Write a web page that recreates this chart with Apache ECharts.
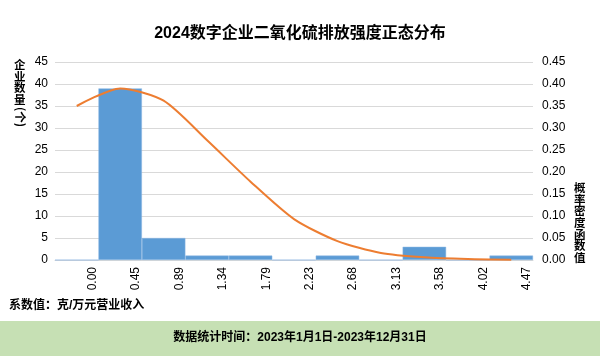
<!DOCTYPE html>
<html>
<head>
<meta charset="utf-8">
<script src="https://cdn.jsdelivr.net/npm/echarts@6/dist/echarts.min.js"></script>
<style>
html,body{margin:0;padding:0;background:#fff;}
#chart{width:600px;height:356px;}
</style>
</head>
<body>
<div id="chart"></div>
<script>
// Histogram bins (category 0 is the leading empty slot used by the curve)
var binCategories = ['b0', 'b1', 'b2', 'b3', 'b4', 'b5', 'b6', 'b7', 'b8', 'b9', 'b10'];
var companyCounts = [0, 39, 5, 1, 1, 0, 1, 0, 3, 0, 1];
var densityValues = [0.35, 0.39, 0.362, 0.272, 0.178, 0.093, 0.043, 0.016, 0.006, 0.002, 0.0005];
var tickLabels = ['', '0.00', '0.45', '0.89', '1.34', '1.79', '2.23', '2.68', '3.13', '3.58', '4.02', '4.47'];

var titleText = '2024数字企业二氧化硫排放强度正态分布';
var leftAxisName = '企业数量';
var leftAxisUnit = '(个)';
var rightAxisName = '概率密度函数值';
var noteText = '系数值：克/万元营业收入';
var footerText = '数据统计时间：2023年1月1日-2023年12月31日';

var FONT = '"Liberation Sans", "Noto Sans CJK SC", sans-serif';
var CJK = '"Noto Sans CJK SC", sans-serif';

var chart = echarts.init(document.getElementById('chart'), null, {renderer: 'canvas'});
chart.setOption({
  animation: false,
  backgroundColor: '#ffffff',
  textStyle: {fontFamily: FONT},
  title: {
    text: titleText,
    left: 'center',
    top: 21,
    textStyle: {fontSize: 16, fontWeight: 'bold', color: '#000', fontFamily: FONT}
  },
  grid: {left: 55, right: 67, top: 62, bottom: 96, containLabel: false},
  xAxis: [
    {
      type: 'category',
      data: binCategories,
      boundaryGap: true,
      position: 'bottom',
      show: false
    },
    {
      type: 'category',
      data: tickLabels,
      boundaryGap: false,
      position: 'bottom',
      axisLine: {show: true, lineStyle: {color: '#d9d9d9', width: 1}},
      axisTick: {show: false},
      splitLine: {show: false},
      axisLabel: {
        interval: 0,
        rotate: 90,
        margin: 7,
        fontSize: 12,
        color: '#000',
        fontFamily: FONT,
        verticalAlign: 'bottom'
      }
    }
  ],
  yAxis: [
    {
      type: 'value',
      min: 0, max: 45, interval: 5,
      axisLine: {show: false},
      axisTick: {show: false},
      splitLine: {lineStyle: {color: '#d9d9d9', width: 1}},
      axisLabel: {fontSize: 12, color: '#000', margin: 7, fontFamily: FONT}
    },
    {
      type: 'value',
      min: 0, max: 0.45, interval: 0.05,
      position: 'right',
      axisLine: {show: false},
      axisTick: {show: false},
      splitLine: {show: false},
      axisLabel: {
        fontSize: 12, color: '#000', margin: 9, fontFamily: FONT,
        formatter: function (v) { return v.toFixed(2); }
      }
    }
  ],
  series: [
    {
      type: 'bar',
      xAxisIndex: 0,
      yAxisIndex: 0,
      data: companyCounts,
      barCategoryGap: '0%',
      barGap: '0%',
      itemStyle: {color: '#5b9bd5', borderColor: '#8db6e3', borderWidth: 0.5}
    },
    {
      type: 'line',
      xAxisIndex: 0,
      yAxisIndex: 1,
      data: densityValues,
      smooth: 0.25,
      symbol: 'none',
      lineStyle: {color: '#ed7d31', width: 2},
      z: 5
    }
  ],
  graphic: [
    {
      type: 'text',
      left: 14,
      top: 59,
      style: {
        text: leftAxisName.split('').join('\n'),
        font: 'bold 11.5px ' + CJK,
        fill: '#000',
        lineHeight: 11.5
      }
    },
    {
      type: 'text',
      x: 26,
      y: 107,
      rotation: -Math.PI / 2,
      style: {
        text: leftAxisUnit,
        font: 'bold 11.5px ' + CJK,
        fill: '#000'
      }
    },
    {
      type: 'text',
      left: 574,
      top: 182,
      style: {
        text: rightAxisName.split('').join('\n'),
        font: 'bold 11.5px ' + CJK,
        fill: '#000',
        lineHeight: 11.6
      }
    },
    {
      type: 'text',
      left: 9,
      top: 300,
      style: {
        text: noteText,
        font: 'bold 12px ' + FONT,
        fill: '#000'
      }
    },
    {
      type: 'rect',
      left: 0,
      top: 321,
      shape: {width: 600, height: 35},
      style: {fill: '#c6e0b4'},
      z: -1
    },
    {
      type: 'text',
      left: 'center',
      top: 332,
      style: {
        text: footerText,
        font: 'bold 12px ' + FONT,
        fill: '#000'
      }
    }
  ]
});
</script>
</body>
</html>
